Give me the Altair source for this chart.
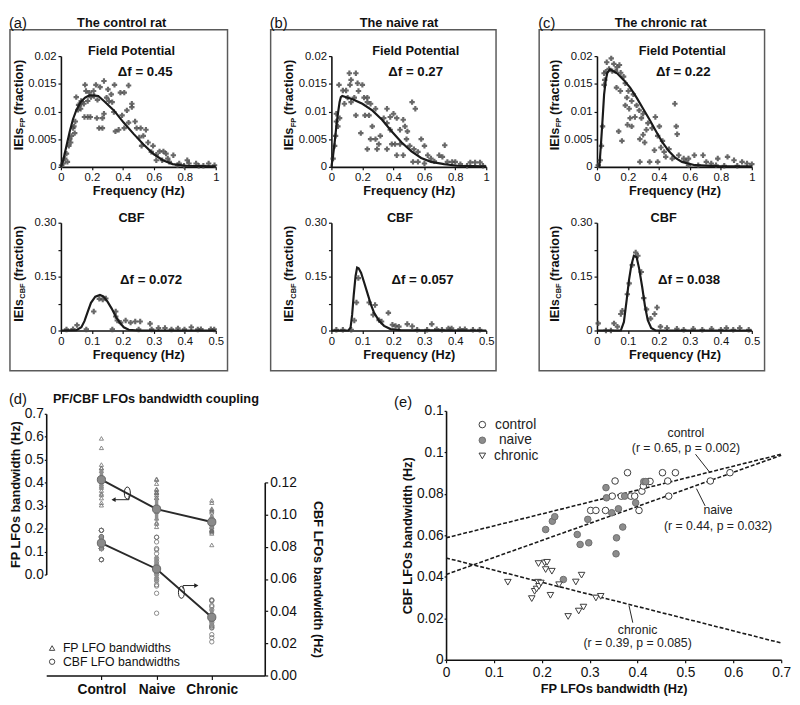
import altair as alt
import pandas as pd

FONT = "Liberation Sans"
INK = "#111111"

# ------------------------------------------------------------------ data
panel_letters = ["(a)", "(b)", "(c)"]
panel_titles = ["The control rat", "The naive rat", "The chronic rat"]
fp_delta = ["\u0394f = 0.45", "\u0394f = 0.27", "\u0394f = 0.22"]
cbf_delta = ["\u0394f = 0.072", "\u0394f = 0.057", "\u0394f = 0.038"]

FP_XTICKS = [0, 0.2, 0.4, 0.6, 0.8, 1.0]
FP_YTICKS = [0, 0.005, 0.01, 0.015, 0.02]
CBF_XTICKS = [0, 0.1, 0.2, 0.3, 0.4, 0.5]
CBF_YTICKS = [0, 0.075, 0.15, 0.225, 0.3]

# (a) control rat - field potential
a_fp_x = [0.004, 0.015, 0.025, 0.036, 0.042, 0.051, 0.057, 0.063, 0.068, 0.078,
          0.084, 0.089, 0.093, 0.099, 0.110, 0.114, 0.120, 0.127, 0.131, 0.135,
          0.148, 0.152, 0.156, 0.162, 0.173, 0.173, 0.184, 0.190, 0.194, 0.211,
          0.215, 0.226, 0.232, 0.236, 0.247, 0.253, 0.268, 0.268, 0.278, 0.278,
          0.295, 0.304, 0.310, 0.325, 0.331, 0.342, 0.346, 0.352, 0.373, 0.384,
          0.395, 0.409, 0.409, 0.426, 0.437, 0.437, 0.458, 0.458, 0.479, 0.489,
          0.506, 0.515, 0.521, 0.532, 0.549, 0.563, 0.584, 0.595, 0.616, 0.616,
          0.637, 0.654, 0.662, 0.679, 0.690, 0.700, 0.726, 0.753, 0.764, 0.795,
          0.816, 0.827, 0.873, 0.890, 0.920, 0.954, 0.992]
a_fp_y = [0.0003, 0.0006, 0.0015, 0.0024, 0.0009, 0.0038, 0.0050, 0.0044, 0.0056, 0.0070,
          0.0073, 0.0061, 0.0082, 0.0126, 0.0103, 0.0112, 0.0111, 0.0105, 0.0119, 0.0117,
          0.0114, 0.0090, 0.0148, 0.0137, 0.0119, 0.0090, 0.0134, 0.0090, 0.0126, 0.0137,
          0.0128, 0.0148, 0.0088, 0.0121, 0.0070, 0.0144, 0.0070, 0.0088, 0.0155, 0.0096,
          0.0125, 0.0140, 0.0119, 0.0131, 0.0117, 0.0099, 0.0148, 0.0064, 0.0067, 0.0134,
          0.0093, 0.0134, 0.0070, 0.0102, 0.0147, 0.0080, 0.0108, 0.0114, 0.0082, 0.0070,
          0.0053, 0.0070, 0.0038, 0.0056, 0.0067, 0.0044, 0.0027, 0.0038, 0.0022, 0.0012,
          0.0028, 0.0012, 0.0028, 0.0024, 0.0015, 0.0009, 0.0021, 0.0003, 0.0006, 0.0002,
          0.0012, 0.0006, 0.0006, 0.0002, 0.0002, 0.0006, 0.0003]
a_fpfit_x = [0, 0.015, 0.036, 0.057, 0.078, 0.099, 0.127, 0.156, 0.184, 0.211, 0.241,
             0.278, 0.342, 0.405, 0.468, 0.532, 0.595, 0.658, 0.722, 0.806, 1.0]
a_fpfit_y = [0, 0.0012, 0.0038, 0.0064, 0.0086, 0.0102, 0.0117, 0.0125, 0.0129, 0.0129, 0.0128,
             0.0119, 0.0102, 0.0080, 0.0060, 0.0041, 0.0024, 0.0012, 0.0005, 0.0002, 0.0001]

# (a) control rat - CBF
a_cbf_x = [0.018, 0.039, 0.052, 0.082, 0.106, 0.124, 0.135, 0.145, 0.166, 0.177,
           0.177, 0.182, 0.193, 0.209, 0.225, 0.240, 0.251, 0.256, 0.288, 0.293,
           0.315, 0.336, 0.357, 0.378, 0.399, 0.421, 0.442, 0.452, 0.484, 0.495]
a_cbf_y = [0.003, 0.004, 0.015, 0.003, 0.053, 0.088, 0.086, 0.089, 0.003, 0.039,
           0.053, 0.028, 0.022, 0.028, 0.022, 0.025, 0.003, 0.025, 0.019, 0.003,
           0.007, 0.007, 0.003, 0.006, 0.003, 0.009, 0.003, 0.004, 0.004, 0.003]
a_cbffit_x = [0, 0.05, 0.066, 0.076, 0.087, 0.097, 0.111, 0.126, 0.137, 0.15, 0.164,
              0.177, 0.19, 0.203, 0.219, 0.251, 0.5]
a_cbffit_y = [0, 0.001, 0.009, 0.026, 0.053, 0.077, 0.094, 0.099, 0.095, 0.081, 0.061,
              0.039, 0.022, 0.009, 0.002, 0, 0]

# (b) naive rat - field potential
b_fp_x = [0.011, 0.021, 0.027, 0.032, 0.032, 0.042, 0.049, 0.053, 0.074, 0.084,
          0.095, 0.105, 0.116, 0.120, 0.127, 0.127, 0.148, 0.158, 0.158, 0.169,
          0.175, 0.190, 0.200, 0.211, 0.217, 0.232, 0.232, 0.232, 0.243, 0.253,
          0.253, 0.264, 0.285, 0.285, 0.295, 0.306, 0.316, 0.338, 0.359, 0.359,
          0.359, 0.380, 0.380, 0.390, 0.401, 0.411, 0.422, 0.422, 0.443, 0.443,
          0.464, 0.464, 0.475, 0.485, 0.491, 0.506, 0.521, 0.527, 0.533, 0.542,
          0.559, 0.559, 0.580, 0.601, 0.601, 0.622, 0.643, 0.665, 0.696, 0.717,
          0.732, 0.749, 0.780, 0.800, 0.833, 0.876, 0.897, 0.928, 0.960, 0.979]
b_fp_y = [0.0015, 0.0038, 0.0056, 0.0082, 0.0096, 0.0073, 0.0148, 0.0088, 0.0138, 0.0114,
          0.0138, 0.0125, 0.0169, 0.0148, 0.0157, 0.0117, 0.0125, 0.0169, 0.0093, 0.0151,
          0.0137, 0.0061, 0.0148, 0.0125, 0.0093, 0.0125, 0.0117, 0.0032, 0.0093, 0.0114,
          0.0050, 0.0073, 0.0105, 0.0050, 0.0032, 0.0041, 0.0056, 0.0088, 0.0079, 0.0105,
          0.0032, 0.0067, 0.0090, 0.0041, 0.0096, 0.0041, 0.0088, 0.0021, 0.0067, 0.0041,
          0.0085, 0.0021, 0.0073, 0.0050, 0.0064, 0.0038, 0.0117, 0.0009, 0.0032, 0.0105,
          0.0027, 0.0009, 0.0050, 0.0038, 0.0006, 0.0021, 0.0015, 0.0010, 0.0021, 0.0018,
          0.0039, 0.0009, 0.0009, 0.0009, 0.0005, 0.0002, 0.0008, 0.0008, 0.0008, 0.0002]
b_fpfit_x = [0, 0.011, 0.021, 0.032, 0.042, 0.053, 0.061, 0.07, 0.137, 0.2, 0.264,
             0.327, 0.39, 0.454, 0.517, 0.58, 0.643, 0.728, 0.812, 1.0]
b_fpfit_y = [0, 0.0021, 0.0044, 0.0073, 0.0096, 0.0117, 0.0126, 0.0128, 0.0122, 0.0114, 0.0102,
             0.0085, 0.0064, 0.0044, 0.0028, 0.0016, 0.0009, 0.0005, 0.0002, 0.0001]

# (b) naive rat - CBF
b_cbf_x = [0.016, 0.037, 0.064, 0.074, 0.081, 0.087, 0.122, 0.135, 0.141, 0.154,
           0.162, 0.184, 0.197, 0.207, 0.218, 0.245, 0.261, 0.277, 0.309, 0.324,
           0.340, 0.357, 0.378, 0.388, 0.415, 0.431, 0.457, 0.479]
b_cbf_y = [0.002, 0.002, 0.002, 0.028, 0.078, 0.146, 0.078, 0.044, 0.071, 0.029,
           0.025, 0.049, 0.016, 0.013, 0.011, 0.018, 0.012, 0.002, 0.002, 0.018,
           0.004, 0.002, 0.006, 0.006, 0.004, 0.004, 0.002, 0.002]
b_cbffit_x = [0, 0.055, 0.062, 0.067, 0.072, 0.078, 0.083, 0.088, 0.096, 0.106, 0.117,
              0.128, 0.138, 0.154, 0.17, 0.191, 0.223, 0.5]
b_cbffit_y = [0, 0, 0.009, 0.044, 0.098, 0.151, 0.175, 0.173, 0.16, 0.133, 0.102,
              0.071, 0.049, 0.027, 0.013, 0.004, 0.001, 0]

# (c) chronic rat - field potential
c_fp_x = [0.008, 0.021, 0.029, 0.036, 0.046, 0.046, 0.050, 0.057, 0.063, 0.078,
          0.092, 0.099, 0.109, 0.120, 0.126, 0.130, 0.140, 0.145, 0.151, 0.153,
          0.161, 0.172, 0.183, 0.183, 0.193, 0.197, 0.203, 0.208, 0.214, 0.224,
          0.224, 0.235, 0.245, 0.256, 0.273, 0.277, 0.277, 0.287, 0.298, 0.298,
          0.308, 0.319, 0.329, 0.340, 0.356, 0.371, 0.377, 0.392, 0.392, 0.403,
          0.413, 0.423, 0.434, 0.444, 0.465, 0.486, 0.503, 0.512, 0.518, 0.528,
          0.560, 0.575, 0.591, 0.591, 0.629, 0.654, 0.685, 0.706, 0.738, 0.769,
          0.780, 0.822, 0.843, 0.885, 0.906, 0.937, 0.969, 1.000]
c_fp_y = [0.0003, 0.0012, 0.0038, 0.0073, 0.0169, 0.0148, 0.0157, 0.0172, 0.0189, 0.0177,
          0.0196, 0.0173, 0.0186, 0.0173, 0.0143, 0.0180, 0.0064, 0.0184, 0.0137, 0.0170,
          0.0047, 0.0163, 0.0151, 0.0111, 0.0125, 0.0076, 0.0137, 0.0105, 0.0088, 0.0119,
          0.0073, 0.0131, 0.0090, 0.0111, 0.0102, 0.0050, 0.0009, 0.0088, 0.0096, 0.0058,
          0.0044, 0.0067, 0.0079, 0.0009, 0.0070, 0.0030, 0.0090, 0.0056, 0.0009, 0.0073,
          0.0035, 0.0047, 0.0027, 0.0018, 0.0032, 0.0015, 0.0114, 0.0073, 0.0059, 0.0021,
          0.0015, 0.0010, 0.0015, 0.0003, 0.0021, 0.0003, 0.0021, 0.0009, 0.0006, 0.0003,
          0.0015, 0.0002, 0.0018, 0.0012, 0.0002, 0.0009, 0.0006, 0.0005]
c_fpfit_x = [0.015, 0.025, 0.036, 0.046, 0.057, 0.067, 0.084, 0.13, 0.172, 0.214, 0.256,
             0.298, 0.34, 0.382, 0.423, 0.465, 0.507, 0.549, 0.633, 0.801, 1.0]
c_fpfit_y = [0, 0.0038, 0.0085, 0.0131, 0.0157, 0.017, 0.0176, 0.0169, 0.0157, 0.0143, 0.0125,
             0.0105, 0.0085, 0.0064, 0.0044, 0.0028, 0.0016, 0.0009, 0.0003, 0.0001, 0.0001]

# (c) chronic rat - CBF
c_cbf_x = [0.004, 0.029, 0.045, 0.055, 0.066, 0.077, 0.082, 0.098, 0.104, 0.114,
           0.125, 0.132, 0.143, 0.151, 0.160, 0.173, 0.186, 0.194, 0.205, 0.226,
           0.258, 0.280, 0.311, 0.340, 0.370, 0.400, 0.418, 0.440, 0.461, 0.490]
c_cbf_y = [0.020, 0.000, 0.000, 0.020, 0.011, 0.046, 0.055, 0.101, 0.131, 0.182,
           0.217, 0.208, 0.163, 0.090, 0.059, 0.033, 0.046, 0.064, 0.011, 0.007,
           0.005, 0.002, 0.005, 0.002, 0.005, 0.002, 0.007, 0.002, 0.007, 0.002]
c_cbffit_x = [0, 0.077, 0.087, 0.096, 0.103, 0.111, 0.119, 0.128, 0.136, 0.146, 0.155,
              0.164, 0.175, 0.189, 0.5]
c_cbffit_y = [0, 0, 0.024, 0.086, 0.138, 0.182, 0.208, 0.204, 0.173, 0.121, 0.068,
              0.029, 0.007, 0, 0]

# (d)/(e) per-animal bandwidths
group_names = ["Control", "Naive", "Chronic"]
group_pos = [1, 2, 3]
control_fp = [0.379, 0.353, 0.302, 0.313, 0.333, 0.347, 0.366, 0.386, 0.394, 0.403,
              0.409, 0.412, 0.423, 0.426, 0.452, 0.463, 0.479, 0.465, 0.552, 0.593]
control_cbf = [0.0902, 0.0862, 0.0720, 0.0720, 0.0720, 0.0789, 0.0789, 0.0789, 0.0789, 0.0720,
               0.0813, 0.0838, 0.0859, 0.0860, 0.0902, 0.0862, 0.0902, 0.0789, 0.0862, 0.0902]
naive_fp = [0.208, 0.222, 0.227, 0.245, 0.274, 0.280, 0.296, 0.298, 0.334, 0.335,
            0.346, 0.356, 0.355, 0.360, 0.369, 0.373, 0.396, 0.413, 0.417]
naive_cbf = [0.0628, 0.0668, 0.0690, 0.0387, 0.0604, 0.0556, 0.0677, 0.0564, 0.0830, 0.0781,
             0.0709, 0.0588, 0.0511, 0.0728, 0.0640, 0.0789, 0.0757, 0.0859, 0.0859]
chronic_fp = [0.129, 0.179, 0.185, 0.189, 0.192, 0.194, 0.198, 0.193, 0.206, 0.211,
              0.208, 0.221, 0.218, 0.236, 0.255, 0.271, 0.277, 0.283, 0.287, 0.313, 0.323]
chronic_cbf = [0.0374, 0.0295, 0.0330, 0.0341, 0.0374, 0.0354, 0.0370, 0.0464, 0.0467, 0.0470,
               0.0435, 0.0427, 0.0311, 0.0362, 0.0209, 0.0375, 0.0235, 0.0408, 0.0254, 0.0298, 0.0306]
fp_mean = [0.413, 0.285, 0.229]
fp_err = [0.045, 0.05, 0.03]
cbf_mean = [0.0823, 0.0662, 0.0362]
cbf_err = [0.005, 0.008, 0.006]
d_legend_labels = ["FP LFO bandwidths", "CBF LFO bandwidths"]

# (e) regression lines (end points)
fit_x = [0.0, 0.7]
fit_control = [0.0588, 0.0991]
fit_naive = [0.0411, 0.0986]
fit_chronic = [0.0491, 0.0081]
e_groups = ["control", "naive", "chronic"]
note_labels = ["control", "(r = 0.65, p = 0.002)", "naive", "(r = 0.44, p = 0.032)",
               "chronic", "(r = 0.39, p = 0.085)"]

# ------------------------------------------------------------------ layout / style
BOX_H = 348
FP_RANGE = [140, 27]
CBF_RANGE = [307, 197]
PANEL_POS = [dict(w=222, p0=52, p1=210, title=114, fp_t=124, fp_d=138, cbf_t=124, cbf_d=144),
             dict(w=230, p0=62, p1=220, title=131, fp_t=148, fp_d=148, cbf_t=132, cbf_d=155),
             dict(w=230, p0=59, p1=217, title=124, fp_t=146, fp_d=147, cbf_t=127, cbf_d=153)]
D_LEFT, D_W, D_H = 37, 260, 270
E_W, E_H = 342, 254
NOTE_POS = [(0.501, 0.1095), (0.501, 0.1023), (0.568, 0.0724), (0.568, 0.0647),
            (0.400, 0.0145), (0.400, 0.0082)]
LEADERS = [(0.521, 0.0991, 0.551, 0.0903), (0.523, 0.0825, 0.541, 0.0742),
           (0.382, 0.0262, 0.390, 0.0179)]
ELLIPSE = "M0,-1C0.667,-1,0.667,1,0,1C-0.667,1,-0.667,-1,0,-1Z"
CBF_LABEL_EXPR = ("abs(datum.value) < 1e-9 ? '0' : abs(datum.value - 0.15) < 1e-6 ? '0.15' : "
                  "abs(datum.value - 0.3) < 1e-6 ? '0.30' : ''")
E_STYLE = {"control": dict(shape="circle", fill="#ffffff", stroke="#3a3a3a", lx=50),
           "naive": dict(shape="circle", fill="#8c8c8c", stroke="#6e6e6e", lx=54),
           "chronic": dict(shape="triangle-down", fill="#ffffff", stroke="#3a3a3a", lx=49)}

AX = dict(grid=False, domainColor=INK, domainWidth=1.6, tickColor=INK, tickWidth=1.2, tickSize=3,
          labelColor=INK, labelFont=FONT, labelFontSize=11.5, labelPadding=2, labelFlush=False,
          labelOverlap=False, titleFont=FONT, titleFontSize=13, titleFontWeight="bold",
          titleColor=INK, titlePadding=2)


def axis(**kw):
    d = dict(AX)
    d.update(kw)
    return alt.Axis(**d)


def one():
    return pd.DataFrame({"k": [0]})


def label(s, x, y, size=13, weight="bold", align="center", angle=None, color=INK):
    props = dict(text=s, font=FONT, fontSize=size, fontWeight=weight, align=align,
                 baseline="middle", color=color)
    if angle is not None:
        props["angle"] = angle
    return alt.Chart(one()).mark_text(**props).encode(x=alt.value(x), y=alt.value(y))


def symbol(x, y, **props):
    return alt.Chart(one()).mark_point(opacity=1, **props).encode(x=alt.value(x), y=alt.value(y))


def freq_plot(px, py, fx, fy, xmax, ymax, xrange, yrange, yvals, xvals, ylabexpr=None):
    xs = alt.Scale(domain=[0, xmax], range=xrange, nice=False, zero=False)
    ys = alt.Scale(domain=[0, ymax], range=yrange, nice=False, zero=False)
    xa = axis(orient="bottom", offset=yrange[0] - BOX_H, values=xvals, format="~g",
              title="Frequency (Hz)")
    ykw = dict(orient="left", offset=-xrange[0], values=yvals, format="~g", title=None)
    if ylabexpr:
        ykw["labelExpr"] = ylabexpr
    ya = axis(**ykw)
    xe = alt.X("f:Q", scale=xs, axis=xa)
    ye = alt.Y("v:Q", scale=ys, axis=ya)
    pts = alt.Chart(pd.DataFrame({"f": px, "v": py})).mark_point(
        shape="cross", filled=True, size=30, color="#4d4d4d", opacity=0.85).encode(x=xe, y=ye)
    fit = alt.Chart(pd.DataFrame({"f": fx, "v": fy})).mark_line(
        color="#1a1a1a", strokeWidth=2.2).encode(x=xe, y=ye)
    return alt.layer(pts, fit)


def panel(i, fpx, fpy, fpfx, fpfy, cbx, cby, cbfx, cbfy):
    pos = PANEL_POS[i]
    xr = [pos["p0"], pos["p1"]]
    tx = pos["p0"] - 43
    fp = freq_plot(fpx, fpy, fpfx, fpfy, 1.0, 0.02, xr, FP_RANGE, FP_YTICKS, FP_XTICKS)
    cb = freq_plot(cbx, cby, cbfx, cbfy, 0.5, 0.30, xr, CBF_RANGE, CBF_YTICKS, CBF_XTICKS,
                   CBF_LABEL_EXPR)
    marks = [fp, cb,
             label(panel_titles[i], pos["title"], -7),
             label(panel_letters[i], -1, -7, size=15, weight="normal", align="left"),
             label("Field Potential", pos["fp_t"], 22),
             label(fp_delta[i], pos["fp_d"], 43, size=13.5),
             label("CBF", pos["cbf_t"], 192),
             label(cbf_delta[i], pos["cbf_d"], 256, size=13.5),
             label("IEIs", tx, 123, angle=270, align="left"),
             label("FP", tx + 4.5, 99.5, size=7.5, angle=270, align="left"),
             label("(fraction)", tx, 87, angle=270, align="left"),
             label("IEIs", tx, 298, angle=270, align="left"),
             label("CBF", tx + 4.5, 274.5, size=7.5, angle=270, align="left"),
             label("(fraction)", tx, 256.5, angle=270, align="left")]
    return alt.layer(*marks).resolve_scale(x="independent", y="independent").properties(
        width=pos["w"], height=BOX_H, view=alt.ViewBackground(stroke="#5a5a5a", strokeWidth=1.5))


pa = panel(0, a_fp_x, a_fp_y, a_fpfit_x, a_fpfit_y, a_cbf_x, a_cbf_y, a_cbffit_x, a_cbffit_y)
pb = panel(1, b_fp_x, b_fp_y, b_fpfit_x, b_fpfit_y, b_cbf_x, b_cbf_y, b_cbffit_x, b_cbffit_y)
pc = panel(2, c_fp_x, c_fp_y, c_fpfit_x, c_fpfit_y, c_cbf_x, c_cbf_y, c_cbffit_x, c_cbffit_y)

# ------------------------------------------------------------------ (d)
gx_all = ([group_pos[0]] * len(control_fp) + [group_pos[1]] * len(naive_fp)
          + [group_pos[2]] * len(chronic_fp))
d_fp = pd.DataFrame({"gx": gx_all, "fp": control_fp + naive_fp + chronic_fp})
d_cb = pd.DataFrame({"gx": gx_all, "cb": control_cbf + naive_cbf + chronic_cbf})
d_means = pd.DataFrame({
    "gx": group_pos,
    "fpm": fp_mean,
    "fplo": [m - e for m, e in zip(fp_mean, fp_err)],
    "fphi": [m + e for m, e in zip(fp_mean, fp_err)],
    "cbm": cbf_mean,
    "cblo": [m - e for m, e in zip(cbf_mean, cbf_err)],
    "cbhi": [m + e for m, e in zip(cbf_mean, cbf_err)],
})

lab_expr = "datum.value == 1 ? '%s' : datum.value == 2 ? '%s' : '%s'" % tuple(group_names)
x_d = alt.X("gx:Q", scale=alt.Scale(domain=[0, 3.96], range=[D_LEFT, D_W], nice=False, zero=False),
            axis=axis(orient="bottom", values=group_pos, labelExpr=lab_expr, title=None,
                      labelFontSize=14, labelFontWeight="bold", tickSize=4, labelPadding=3))
fp_scale = alt.Scale(domain=[0, 0.7], range=[167, 3], nice=False, zero=False)
fp_axis = axis(orient="left", offset=-D_LEFT, values=[0, 0.1, 0.2, 0.3, 0.4, 0.5, 0.6, 0.7],
               format=".1f", title="FP LFOs bandwidth (Hz)", labelFontSize=14, tickSize=2,
               labelPadding=1, titlePadding=2)
cb_scale = alt.Scale(domain=[0, 0.12], range=[D_H, 73], nice=False, zero=False)
cb_axis = axis(orient="right", values=[0, 0.02, 0.04, 0.06, 0.08, 0.1, 0.12], format=".2f",
               title="CBF LFOs bandwidth (Hz)", labelFontSize=14, tickSize=3, labelPadding=2,
               titlePadding=14)


def yfp(f):
    return alt.Y(f, scale=fp_scale, axis=fp_axis)


def ycb(f):
    return alt.Y(f, scale=cb_scale, axis=cb_axis)


fp_pts = alt.Chart(d_fp).mark_point(shape="triangle-up", filled=False, size=18, strokeWidth=0.8,
                                    color="#6e6e6e", opacity=1).encode(x=x_d, y=yfp("fp:Q"))
cb_pts = alt.Chart(d_cb).mark_point(shape="circle", filled=False, size=20, strokeWidth=0.8,
                                    color="#6e6e6e", opacity=1).encode(x=x_d, y=ycb("cb:Q"))
fp_err_bar = alt.Chart(d_means).mark_rule(strokeWidth=3.5, color="#8f8f8f").encode(
    x=x_d, y=yfp("fplo:Q"), y2="fphi:Q")
cb_err_bar = alt.Chart(d_means).mark_rule(strokeWidth=3.5, color="#8f8f8f").encode(
    x=x_d, y=ycb("cblo:Q"), y2="cbhi:Q")
fp_line = alt.Chart(d_means).mark_line(color="#2a2a2a", strokeWidth=2).encode(x=x_d, y=yfp("fpm:Q"))
cb_line = alt.Chart(d_means).mark_line(color="#2a2a2a", strokeWidth=2).encode(x=x_d, y=ycb("cbm:Q"))
fp_dot = alt.Chart(d_means).mark_point(filled=True, shape="circle", size=70, color="#8a8a8a",
                                       stroke="#666666", strokeWidth=1, opacity=1).encode(
    x=x_d, y=yfp("fpm:Q"))
cb_dot = alt.Chart(d_means).mark_point(filled=True, shape="circle", size=70, color="#8a8a8a",
                                       stroke="#666666", strokeWidth=1, opacity=1).encode(
    x=x_d, y=ycb("cbm:Q"))


def pointer(ex, ey, path_x, path_y, head, yf):
    ell = alt.Chart(pd.DataFrame({"gx": [ex], "ay": [ey]})).mark_point(
        shape=ELLIPSE, size=150, filled=False, color="#222222", strokeWidth=1, opacity=1).encode(
        x=x_d, y=yf("ay:Q"))
    seg = alt.Chart(pd.DataFrame({"gx": path_x, "ay": path_y, "o": list(range(len(path_x)))})).mark_line(
        color="#222222", strokeWidth=1).encode(x=x_d, y=yf("ay:Q"), order="o:Q")
    tip = alt.Chart(pd.DataFrame({"gx": [path_x[-1]], "ay": [path_y[-1]]})).mark_point(
        shape=head, filled=True, size=24, color="#222222", opacity=1).encode(x=x_d, y=yf("ay:Q"))
    return [ell, seg, tip]


fp_group = alt.layer(fp_pts, fp_err_bar, fp_line, fp_dot,
                     *pointer(1.47, 0.355, [1.50, 1.50, 1.22], [0.343, 0.326, 0.326], "triangle-left", yfp))
cb_group = alt.layer(cb_pts, cb_err_bar, cb_line, cb_dot,
                     *pointer(2.45, 0.0517, [2.48, 2.48, 2.72], [0.0540, 0.0559, 0.0559], "triangle-right", ycb))
d_key = [
    symbol(D_LEFT + 6, 242, shape="triangle-up", filled=False, size=30, strokeWidth=1, color="#444444"),
    label(d_legend_labels[0], D_LEFT + 17, 242, size=12.5, weight="normal", align="left"),
    symbol(D_LEFT + 6, 256, shape="circle", filled=False, size=30, strokeWidth=1, color="#444444"),
    label(d_legend_labels[1], D_LEFT + 17, 256, size=12.5, weight="normal", align="left"),
]
chart_d = alt.layer(
    fp_group, cb_group, *d_key,
    label("(d)", -1, -12, size=15, weight="normal", align="left"),
    label("PF/CBF LFOs bandwidth coupling", D_LEFT + 112, -12),
).resolve_scale(y="independent").properties(width=D_W, height=D_H)

# ------------------------------------------------------------------ (e)
x_e = alt.X("fp:Q", scale=alt.Scale(domain=[0, 0.7], nice=False, zero=False),
            axis=axis(values=[0, 0.1, 0.2, 0.3, 0.4, 0.5, 0.6, 0.7], format="~g",
                      title="FP LFOs bandwidth (Hz)", labelFontSize=14, tickSize=3,
                      labelPadding=3, titlePadding=3))
y_e = alt.Y("cb:Q", scale=alt.Scale(domain=[0, 0.12], nice=False, zero=False),
            axis=axis(values=[0, 0.02, 0.04, 0.06, 0.08, 0.1, 0.12], format="~g",
                      title="CBF LFOs bandwidth (Hz)", labelFontSize=14, tickSize=2,
                      labelPadding=1, titlePadding=2))

fit_df = pd.DataFrame({
    "fp": fit_x * 3,
    "cb": fit_control + fit_naive + fit_chronic,
    "grp": [g for g in e_groups for _ in fit_x],
})
line_e = alt.Chart(fit_df).mark_line(strokeDash=[4, 2], strokeWidth=1.6, color="#1a1a1a").encode(
    x=x_e, y=y_e, detail="grp:N")

e_series = {"control": (control_fp, control_cbf), "naive": (naive_fp, naive_cbf),
            "chronic": (chronic_fp, chronic_cbf)}
pts_e = []
key_e = []
for k, g in enumerate(e_groups):
    xs, ys = e_series[g]
    st = E_STYLE[g]
    pts_e.append(alt.Chart(pd.DataFrame({"fp": xs, "cb": ys})).mark_point(
        shape=st["shape"], filled=True, fill=st["fill"], stroke=st["stroke"], size=45,
        strokeWidth=1, opacity=1).encode(x=x_e, y=y_e))
    ky = 14 + 16 * k
    key_e.append(symbol(37, ky, shape=st["shape"], filled=True, fill=st["fill"], stroke=st["stroke"],
                        size=45, strokeWidth=1))
    key_e.append(label(g, st["lx"], ky, size=14, weight="normal", align="left", color="#222222"))

notes_df = pd.DataFrame({"fp": [p[0] for p in NOTE_POS], "cb": [p[1] for p in NOTE_POS],
                         "t": note_labels})
notes_e = alt.Chart(notes_df).mark_text(font=FONT, fontSize=12.5, color="#222222").encode(
    x=x_e, y=y_e, text="t:N")
lead_df = pd.DataFrame({"fp": [l[0] for l in LEADERS], "cb": [l[1] for l in LEADERS],
                        "fp2": [l[2] for l in LEADERS], "cb2": [l[3] for l in LEADERS]})
lead_e = alt.Chart(lead_df).mark_rule(color="#222222", strokeWidth=1).encode(
    x=x_e, y=y_e, x2="fp2:Q", y2="cb2:Q")
chart_e = alt.layer(
    line_e, lead_e, *pts_e, notes_e, *key_e,
    label("(e)", -53, -9, size=15, weight="normal", align="left"),
).properties(width=E_W, height=E_H)

# ------------------------------------------------------------------ assemble
top_row = alt.hconcat(pa, pb, pc, spacing=41)
bottom_row = alt.hconcat(chart_d, chart_e, spacing=71)
chart = alt.concat(top_row, bottom_row, columns=1, spacing=20).properties(
    align="none", padding=0, background="white"
).configure(font=FONT).configure_view(stroke="transparent")

chart.save("out.html", embed_options={"renderer": "svg", "actions": False})
